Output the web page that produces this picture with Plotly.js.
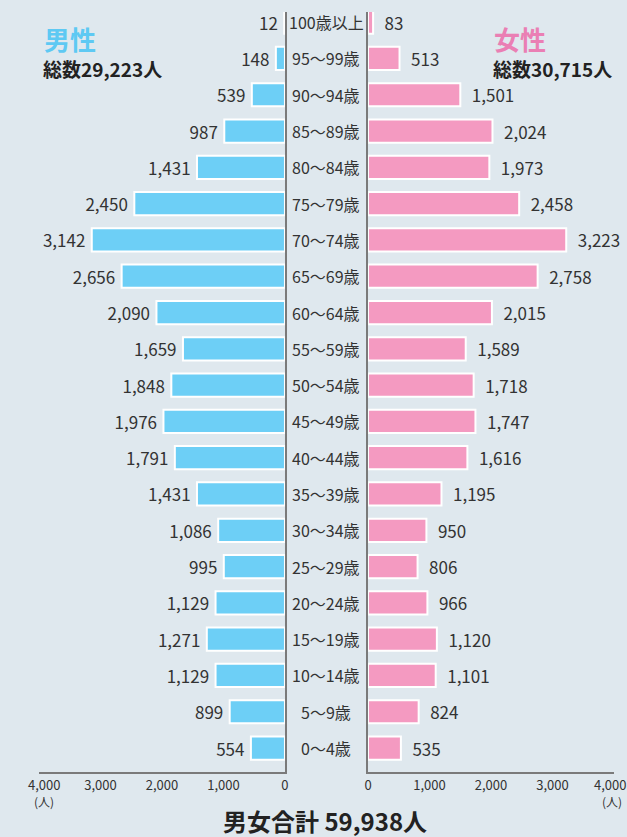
<!DOCTYPE html>
<html>
<head>
<meta charset="utf-8">
<script src="https://cdn.plot.ly/plotly-3.0.1.min.js"></script>
<style>
html,body{margin:0;padding:0;background:#dfe8ee;}
#chart{width:627px;height:837px;}
</style>
</head>
<body>
<div id="chart"></div>
<script>
const ageGroups = ["0～4歳","5～9歳","10～14歳","15～19歳","20～24歳","25～29歳","30～34歳","35～39歳","40～44歳","45～49歳","50～54歳","55～59歳","60～64歳","65～69歳","70～74歳","75～79歳","80～84歳","85～89歳","90～94歳","95～99歳","100歳以上"];
const male =   [554, 899, 1129, 1271, 1129, 995, 1086, 1431, 1791, 1976, 1848, 1659, 2090, 2656, 3142, 2450, 1431, 987, 539, 148, 12];
const female = [535, 824, 1101, 1120, 966, 806, 950, 1195, 1616, 1747, 1718, 1589, 2015, 2758, 3223, 2458, 1973, 2024, 1501, 513, 83];
const tickVals = [0, 1000, 2000, 3000];
const tickText = ["0", "1,000", "2,000", "3,000"];
const edgeTick = "4,000";
const unitLabel = "(人)";
const maleTotal = "総数29,223人";
const femaleTotal = "総数30,715人";
const grandTotal = "男女合計 59,938人";

const FONT = "'Noto Sans CJK JP', 'Noto Sans', sans-serif";
const fmt = v => v.toLocaleString("en-US");

const traces = [
  {
    type: "bar", orientation: "h", x: male, y: ageGroups, xaxis: "x", yaxis: "y",
    marker: {color: "#6dcff6", line: {color: "#ffffff", width: 2}},
    width: 0.64, text: male.map(fmt), texttemplate: "%{text}\u2009", textposition: "outside", constraintext: "none",
    cliponaxis: false, textfont: {family: FONT, size: 17, color: "#333333"}, hoverinfo: "skip"
  },
  {
    type: "bar", orientation: "h", x: female, y: ageGroups, xaxis: "x2", yaxis: "y2",
    marker: {color: "#f49ac1", line: {color: "#ffffff", width: 2}},
    width: 0.64, text: female.map(fmt), texttemplate: "\u2002%{text}", textposition: "outside", constraintext: "none",
    cliponaxis: false, textfont: {family: FONT, size: 17, color: "#333333"}, hoverinfo: "skip"
  }
];

const ageAnn = ageGroups.map(a => ({
  text: a, x: 0.5207, xref: "paper", y: a, yref: "y", showarrow: false,
  font: {family: FONT, size: 16, color: "#333333"}, xanchor: "center", yanchor: "middle"
}));

const yRange = [-0.66, 20.28];
const axisCommon = {
  tickvals: tickVals, ticktext: tickText, showgrid: false, zeroline: false,
  showline: true, linecolor: "#7a7a7a", linewidth: 2, ticks: "",
  tickfont: {family: FONT, size: 13, color: "#333333"}, fixedrange: true
};
const plotTop = 12, plotH = 837 - 12 - 65;
const px = (a) => Object.assign({}, a, {xref: "paper", yref: "paper", x: a.x / 627, y: 1 - (a.y - plotTop) / plotH});

const extraAnn = [
  {text: "<b>男性</b>", x: 42, y: 39, showarrow: false, xanchor: "left", yanchor: "middle",
    font: {family: FONT, size: 26, color: "#5ec9f3"}},
  {text: "<b>" + maleTotal + "</b>", x: 41, y: 69, showarrow: false, xanchor: "left", yanchor: "middle",
    font: {family: FONT, size: 19, color: "#222222"}},
  {text: "<b>女性</b>", x: 492, y: 39, showarrow: false, xanchor: "left", yanchor: "middle",
    font: {family: FONT, size: 26, color: "#ea7fb4"}},
  {text: "<b>" + femaleTotal + "</b>", x: 491, y: 69, showarrow: false, xanchor: "left", yanchor: "middle",
    font: {family: FONT, size: 19, color: "#222222"}},
  {text: edgeTick, x: 44, y: 784, showarrow: false, xanchor: "center", yanchor: "middle",
    font: {family: FONT, size: 13, color: "#333333"}},
  {text: edgeTick, x: 610, y: 784, showarrow: false, xanchor: "center", yanchor: "middle",
    font: {family: FONT, size: 13, color: "#333333"}},
  {text: unitLabel, x: 44, y: 801, showarrow: false, xanchor: "center", yanchor: "middle",
    font: {family: FONT, size: 12, color: "#333333"}},
  {text: unitLabel, x: 612, y: 801, showarrow: false, xanchor: "center", yanchor: "middle",
    font: {family: FONT, size: 12, color: "#333333"}},
  {text: "<b>" + grandTotal + "</b>", x: 325, y: 820, showarrow: false, xanchor: "center", yanchor: "middle",
    font: {family: FONT, size: 24, color: "#222222"}}
].map(px);

const layout = {
  width: 627, height: 837,
  margin: {l: 0, r: 0, t: 12, b: 65},
  paper_bgcolor: "#dfe8ee", plot_bgcolor: "rgba(0,0,0,0)",
  showlegend: false,
  font: {family: FONT},
  xaxis: Object.assign({}, axisCommon, {domain: [0.0622, 0.4545], range: [4000, 0], anchor: "y"}),
  xaxis2: Object.assign({}, axisCommon, {domain: [0.5869, 0.9793], range: [0, 4000], anchor: "y2"}),
  yaxis: {range: yRange, showticklabels: false, showgrid: false, zeroline: false, showline: true,
    linecolor: "#7a7a7a", linewidth: 2, side: "right", anchor: "x", type: "category", fixedrange: true},
  yaxis2: {range: yRange, showticklabels: false, showgrid: false, zeroline: false, showline: true,
    linecolor: "#7a7a7a", linewidth: 2, side: "left", anchor: "x2", type: "category", fixedrange: true},
  annotations: ageAnn.concat(extraAnn)
};

Plotly.newPlot("chart", traces, layout, {staticPlot: true});
</script>
</body>
</html>
